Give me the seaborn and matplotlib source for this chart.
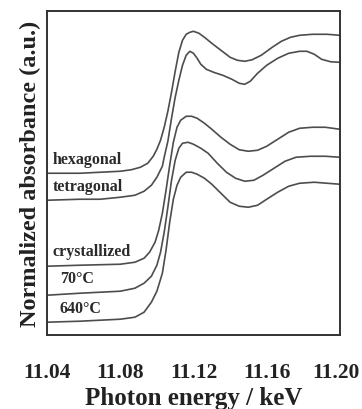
import pandas as pd
import matplotlib
matplotlib.use('Agg')
import matplotlib.pyplot as plt
import matplotlib.transforms as mtransforms
import seaborn as sns

# XANES curves (energy in keV, normalized absorbance in a.u., offset per curve)
hex_e = [11.040, 11.058, 11.069, 11.080, 11.086, 11.091, 11.095, 11.098, 11.100, 11.102, 11.104,
         11.106, 11.108, 11.110, 11.112, 11.114, 11.116, 11.118, 11.120, 11.123, 11.126, 11.130,
         11.135, 11.140, 11.144, 11.148, 11.152, 11.157, 11.163, 11.168, 11.173, 11.178, 11.185,
         11.193, 11.200]
hex_a = [1.62, 1.62, 1.63, 1.64, 1.655, 1.68, 1.72, 1.79, 1.86, 1.95, 2.08,
         2.24, 2.43, 2.64, 2.83, 2.95, 3.01, 3.03, 3.04, 3.02, 2.98, 2.92,
         2.85, 2.78, 2.75, 2.74, 2.755, 2.80, 2.88, 2.94, 2.98, 3.00, 3.01,
         3.01, 3.00]

tet_e = [11.040, 11.058, 11.069, 11.080, 11.088, 11.093, 11.097, 11.100, 11.103, 11.104, 11.106,
         11.108, 11.110, 11.112, 11.114, 11.116, 11.118, 11.120, 11.122, 11.124, 11.127, 11.131,
         11.136, 11.141, 11.145, 11.148, 11.151, 11.155, 11.160, 11.166, 11.172, 11.178, 11.182,
         11.186, 11.190, 11.195, 11.200]
tet_a = [1.35, 1.36, 1.36, 1.38, 1.40, 1.44, 1.50, 1.58, 1.69, 1.78, 1.94,
         2.17, 2.38, 2.55, 2.70, 2.80, 2.84, 2.82, 2.77, 2.71, 2.66, 2.63,
         2.60, 2.56, 2.52, 2.51, 2.54, 2.62, 2.70, 2.77, 2.82, 2.84, 2.84,
         2.81, 2.76, 2.735, 2.73]

cry_e = [11.040, 11.058, 11.080, 11.088, 11.093, 11.096, 11.099, 11.101, 11.103, 11.105, 11.107,
         11.109, 11.111, 11.113, 11.116, 11.119, 11.122, 11.126, 11.130, 11.135, 11.140, 11.145,
         11.150, 11.155, 11.160, 11.166, 11.172, 11.178, 11.185, 11.192, 11.200]
cry_a = [0.69, 0.70, 0.71, 0.73, 0.77, 0.83, 0.93, 1.05, 1.22, 1.45, 1.70,
         1.93, 2.08, 2.15, 2.19, 2.19, 2.17, 2.12, 2.06, 1.98, 1.91, 1.855,
         1.84, 1.85, 1.89, 1.96, 2.03, 2.07, 2.08, 2.08, 2.06]

c70_e = [11.040, 11.058, 11.080, 11.088, 11.093, 11.097, 11.100, 11.102, 11.104, 11.106, 11.108,
         11.110, 11.112, 11.114, 11.117, 11.120, 11.124, 11.128, 11.133, 11.138, 11.143, 11.148,
         11.153, 11.158, 11.164, 11.170, 11.176, 11.184, 11.192, 11.200]
c70_a = [0.40, 0.42, 0.44, 0.47, 0.52, 0.59, 0.70, 0.83, 1.03, 1.28, 1.55,
         1.75, 1.87, 1.92, 1.93, 1.91, 1.87, 1.82, 1.72, 1.63, 1.57, 1.54,
         1.55, 1.60, 1.67, 1.74, 1.78, 1.79, 1.79, 1.78]

c640_e = [11.040, 11.058, 11.080, 11.088, 11.093, 11.097, 11.100, 11.103, 11.105, 11.107, 11.109,
          11.111, 11.113, 11.116, 11.119, 11.122, 11.126, 11.130, 11.135, 11.140, 11.145, 11.150,
          11.155, 11.160, 11.166, 11.172, 11.178, 11.186, 11.193, 11.200]
c640_a = [0.13, 0.14, 0.16, 0.18, 0.23, 0.33, 0.44, 0.62, 0.85, 1.13, 1.36,
          1.50, 1.58, 1.63, 1.63, 1.61, 1.57, 1.51, 1.42, 1.33, 1.29, 1.28,
          1.30, 1.36, 1.43, 1.49, 1.52, 1.53, 1.52, 1.51]

samples = ['hexagonal', 'tetragonal', 'crystallized', '70°C', '640°C']
energies = [hex_e, tet_e, cry_e, c70_e, c640_e]
absorb = [hex_a, tet_a, cry_a, c70_a, c640_a]

# label anchor (energy, absorbance) for each curve
label_x = [11.043, 11.043, 11.043, 11.047, 11.047]
label_y = [1.76, 1.49, 0.84, 0.57, 0.27]

rows = []
for name, e, a in zip(samples, energies, absorb):
    for xi, yi in zip(e, a):
        rows.append({'sample': name, 'energy': xi, 'abs': yi})
df = pd.DataFrame(rows)

sns.set_style('white')
plt.rcParams['font.family'] = ['Liberation Serif', 'DejaVu Serif']
plt.rcParams['font.weight'] = 'bold'

fig = plt.figure(figsize=(3.62, 4.10), dpi=100)
ax = fig.add_axes([0.130, 0.180, 0.809, 0.790])

sns.lineplot(data=df, x='energy', y='abs', hue='sample', units='sample', estimator=None,
             sort=False, palette=['#4d4d4d'] * 5, linewidth=1.2, legend=False, ax=ax)

for name, lx, ly in zip(samples, label_x, label_y):
    ax.text(lx, ly, name, fontsize=11.5, fontweight='bold', color='#2a2a2a', va='center', ha='left')

ax.set_xlim(11.04, 11.20)
ax.set_ylim(0, 3.24)
ticks = [11.04, 11.06, 11.08, 11.10, 11.12, 11.14, 11.16, 11.18, 11.20]
tick_labels = ['11.04', '', '11.08', '', '11.12', '', '11.16', '', '11.20']
ax.set_xticks(ticks)
ax.set_xticklabels(tick_labels)
ax.set_yticks([])
ax.tick_params(axis='x', direction='in', length=5, width=1.2, color='#333333',
               pad=19, labelsize=15.5, labelcolor='#222222')
# last label sits against the figure edge, nudge it in a little
last = ax.get_xticklabels()[-1]
last.set_transform(last.get_transform() + mtransforms.ScaledTranslation(-4 / 100, 0, fig.dpi_scale_trans))
for s in ax.spines.values():
    s.set_color('#333333')
    s.set_linewidth(1.4)

ax.set_xlabel('Photon energy / keV', fontsize=18, fontweight='bold', color='#222222', labelpad=3)
ax.set_ylabel('Normalized absorbance (a.u.)', fontsize=17.5, fontweight='bold', color='#222222', labelpad=4)

fig.savefig('out.png', dpi=100)
